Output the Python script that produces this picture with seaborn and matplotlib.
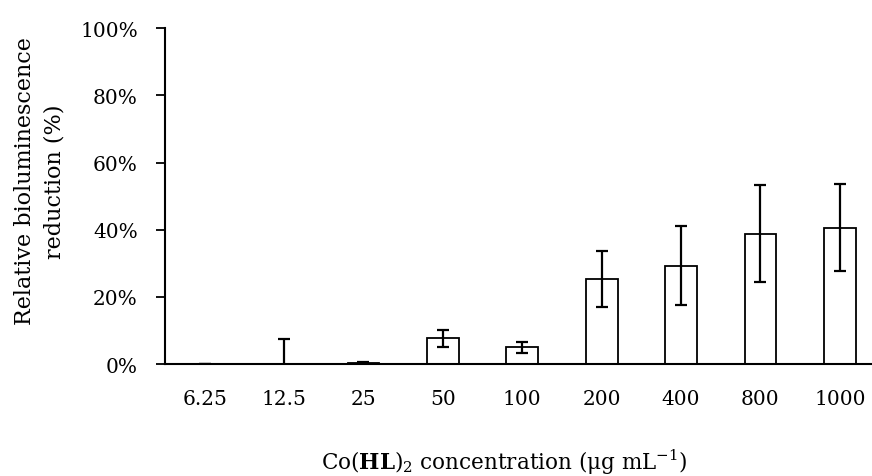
import numpy as np
import pandas as pd
import seaborn as sns
import matplotlib.pyplot as plt
from matplotlib.ticker import PercentFormatter

concentrations = ['6.25', '12.5', '25', '50', '100', '200', '400', '800', '1000']
reduction = [0.0, 0.0, 0.3, 7.6, 5.0, 25.3, 29.3, 38.8, 40.6]
reduction_sd = [0.0, 7.4, 0.3, 2.4, 1.65, 8.4, 11.7, 14.5, 13.0]

sns.set_theme(style='white')
plt.rcParams['font.family'] = ['DejaVu Serif']
plt.rcParams['mathtext.fontset'] = 'dejavuserif'

df = pd.DataFrame({'conc': concentrations, 'red': reduction})

fig = plt.figure(figsize=(8.72, 4.77), dpi=100)
ax = fig.add_axes([0.1892, 0.2348, 0.8194, 0.7038])

sns.barplot(data=df, x='conc', y='red', order=concentrations, errorbar=None,
            width=0.4, color='white', edgecolor='black', linewidth=1.3,
            saturation=1, ax=ax)
ax.errorbar(np.arange(len(concentrations)), reduction, yerr=reduction_sd,
            fmt='none', ecolor='black', elinewidth=1.6, capsize=4.3,
            capthick=1.6, zorder=3)

ax.set_xlim(-0.5, len(concentrations) - 0.5)
ax.set_ylim(0, 100)
ax.set_yticks(np.arange(0, 101, 20))
ax.yaxis.set_major_formatter(PercentFormatter(decimals=0))
ax.set_xlabel('')
ax.set_ylabel('')

for side in ['top', 'right']:
    ax.spines[side].set_visible(False)
for side in ['left', 'bottom']:
    ax.spines[side].set_color('black')
    ax.spines[side].set_linewidth(1.5)

ax.tick_params(axis='y', left=True, length=6.5, width=1.3, color='black',
               pad=13, labelsize=14.5, labelcolor='black')
ax.tick_params(axis='x', bottom=False, length=0, pad=18, labelsize=14.5,
               labelcolor='black')

fig.text(0.046, 0.62, 'Relative bioluminescence\nreduction (%)', rotation=90,
         ha='center', va='center', fontsize=16, color='black',
         multialignment='center', linespacing=1.45)
fig.text(0.578, 0.03, r'Co($\mathbf{HL}$)$_2$ concentration (μg mL$^{\mathregular{-1}}$)',
         ha='center', va='center', fontsize=15.5, color='black')

plt.savefig('out.png', dpi=100)
plt.close()
